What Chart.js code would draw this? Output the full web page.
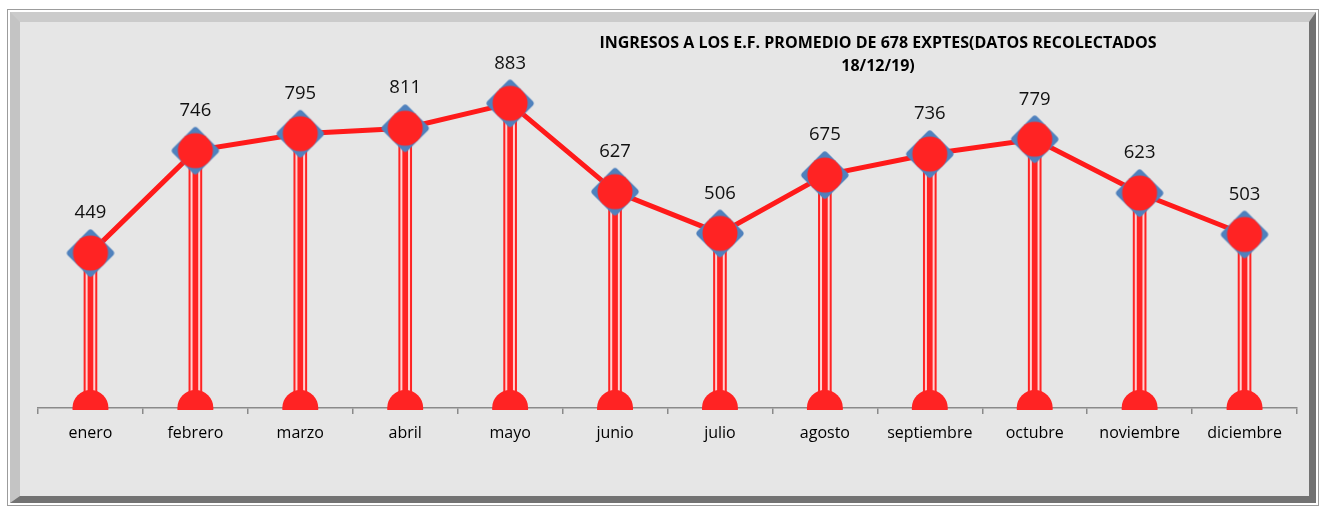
<!DOCTYPE html>
<html><head><meta charset="utf-8">
<script src="https://cdn.jsdelivr.net/npm/chart.js@4.4.1/dist/chart.umd.min.js"></script>
<style>
html,body{margin:0;padding:0;background:#fff;width:1321px;height:508px;overflow:hidden;}
#frame{position:absolute;left:7px;top:9px;width:1312px;height:497px;box-sizing:border-box;border:1px solid #9c9c9c;background:#fff;padding:2px;}
#inner{width:100%;height:100%;box-sizing:border-box;background:#e6e6e6;border-style:solid;border-width:10px 7px 7px 10px;border-color:#cbcbcb #727272 #727272 #c4c4c4;}
#title{position:absolute;left:528px;width:700px;top:31px;text-align:center;font:bold 16px "Open Sans";line-height:23px;color:#000;}
#wrap{position:absolute;left:0;top:0;width:1321px;height:508px;}
</style></head><body>
<div id="frame"><div id="inner"></div></div>
<div id="wrap"><canvas id="c" width="1321" height="508"></canvas></div>
<div id="title">INGRESOS A LOS E.F. PROMEDIO DE 678 EXPTES(DATOS RECOLECTADOS<br>18/12/19)</div>
<script>
const categories = ['enero','febrero','marzo','abril','mayo','junio','julio','agosto','septiembre','octubre','noviembre','diciembre'];
const ingresos = [449, 746, 795, 811, 883, 627, 506, 675, 736, 779, 623, 503];
const baseLine = [0, 0, 0, 0, 0, 0, 0, 0, 0, 0, 0, 0];
const yMin = 0;
const yMax = 1000;

const RED = '#ff2323';

function makeMarker(){
  const c = document.createElement('canvas'); c.width = 52; c.height = 52;
  const g = c.getContext('2d');
  g.fillStyle = '#4f81bd'; g.strokeStyle = '#4f81bd'; g.lineWidth = 7; g.lineJoin = 'round';
  g.beginPath(); g.moveTo(26,6); g.lineTo(46,26); g.lineTo(26,46); g.lineTo(6,26); g.closePath();
  g.fill(); g.stroke();
  g.fillStyle = RED; g.beginPath(); g.arc(26,26,17.5,0,Math.PI*2); g.fill();
  return c;
}

const valueLabels = {
  id: 'valueLabels',
  afterDatasetsDraw(chart){
    const meta = chart.getDatasetMeta(0);
    const ctx = chart.ctx;
    ctx.save();
    ctx.font = '18.5px "Open Sans"';
    ctx.fillStyle = '#111';
    ctx.textAlign = 'center';
    ctx.textBaseline = 'middle';
    meta.data.forEach((p, i) => {
      ctx.fillText(String(chart.data.datasets[0].data[i]), p.x, p.y - 40);
    });
    ctx.restore();
  }
};

new Chart(document.getElementById('c'), {
  data: {
    labels: categories,
    datasets: [
      { type:'line', data: ingresos, borderColor:'#ff1a1a', borderWidth:5, pointStyle: makeMarker(),
        pointRadius:22, pointHoverRadius:22, fill:false, tension:0, order:0, clip:false },
      { type:'line', data: baseLine, showLine:false, pointStyle:'circle', pointRadius:18, pointHoverRadius:18,
        pointBackgroundColor:RED, pointBorderWidth:0, order:1, clip:{left:60,right:60,top:60,bottom:2} },
      { type:'bar', data: ingresos, backgroundColor:RED, barThickness:5, grouped:false, order:2 },
      { type:'bar', data: ingresos, backgroundColor:'#ffd2d2', barThickness:9, grouped:false, order:3 },
      { type:'bar', data: ingresos, backgroundColor:RED, barThickness:13, grouped:false, order:4 }
    ]
  },
  options: {
    responsive:false, animation:false, events:[],
    layout:{ padding:{left:38, right:24, top:63, bottom:0}, autoPadding:false },
    plugins:{ legend:{display:false}, tooltip:{enabled:false}, title:{display:false} },
    scales:{
      x:{ type:'category', offset:true,
          grid:{ offset:true, drawOnChartArea:false, drawTicks:true, tickLength:6, color:'#8a8a8a', lineWidth:1.5 },
          border:{ display:true, color:'#8a8a8a', width:1.5 },
          ticks:{ font:{family:'"Open Sans"', size:16}, color:'#000', padding:10, maxRotation:0 },
          afterFit:(s)=>{ s.height = 100; } },
      y:{ display:false, min:yMin, max:yMax }
    }
  },
  plugins:[valueLabels]
});
</script>
</body></html>
